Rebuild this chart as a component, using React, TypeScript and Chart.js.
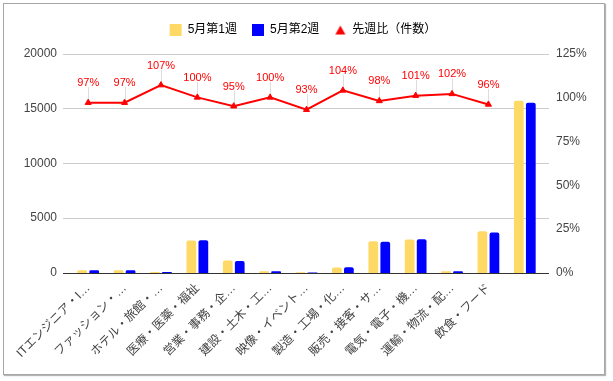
import React, { useEffect, useRef } from "react";
import { Chart, registerables } from "chart.js";
Chart.register(...registerables);

const categories = [
  "ITエンジニア・I…",
  "ファッション・…",
  "ホテル・旅館・…",
  "医療・医薬・福祉",
  "営業・事務・企…",
  "建設・土木・工…",
  "映像・イベント…",
  "製造・工場・化…",
  "販売・接客・サ…",
  "電気・電子・機…",
  "運輸・物流・配…",
  "飲食・フード",
  "",
];
const week1 = [250, 250, 80, 2970, 1150, 150, 60, 500, 2900, 3050, 150, 3800, 15700];
const week2 = [240, 240, 85, 2980, 1100, 150, 55, 520, 2850, 3080, 155, 3700, 15520];
const ratio: (number | null)[] = [97, 97, 107, 100, 95, 100, 93, 104, 98, 101, 102, 96, null];
const seriesNames = ["5月第1週", "5月第2週", "先週比（件数）"];

const YELLOW = "#ffd966";
const BLUE = "#0000ff";
const RED = "#ff0000";
const FONT = "Arial, 'Liberation Sans', 'Noto Sans CJK JP', sans-serif";

export default function App() {
  const ref = useRef<HTMLCanvasElement>(null);
  useEffect(() => {
    const tri = document.createElement("canvas");
    tri.width = 12;
    tri.height = 12;
    const tc = tri.getContext("2d")!;
    tc.fillStyle = RED;
    tc.beginPath();
    tc.moveTo(6, 1.5);
    tc.lineTo(11, 10.5);
    tc.lineTo(1, 10.5);
    tc.closePath();
    tc.fill();

    const decor = {
      id: "decor",
      beforeDatasetsDraw(chart: any) {
        const ctx = chart.ctx;
        const y = chart.scales.y;
        const left = chart.chartArea.left - 7;
        const right = chart.chartArea.right + 6;
        ctx.save();
        ctx.lineWidth = 1;
        y.ticks.forEach((t: any) => {
          if (t.value === 0) return;
          const py = Math.round(y.getPixelForValue(t.value)) + 0.5;
          ctx.strokeStyle = "#cccccc";
          ctx.beginPath();
          ctx.moveTo(left, py);
          ctx.lineTo(right, py);
          ctx.stroke();
        });
        const meta = chart.getDatasetMeta(2);
        ctx.strokeStyle = "#dddddd";
        meta.data.forEach((pt: any, i: number) => {
          if (ratio[i] == null) return;
          const px = Math.round(pt.x) + 0.5;
          ctx.beginPath();
          ctx.moveTo(px, pt.y - 15.5);
          ctx.lineTo(px, pt.y);
          ctx.stroke();
        });
        ctx.restore();
      },
      afterDatasetsDraw(chart: any) {
        const ctx = chart.ctx;
        const y = chart.scales.y;
        const left = chart.chartArea.left - 7;
        const right = chart.chartArea.right + 6;
        ctx.save();
        const py = Math.round(y.getPixelForValue(0)) + 0.5;
        ctx.strokeStyle = "#333333";
        ctx.lineWidth = 1;
        ctx.beginPath();
        ctx.moveTo(left, py);
        ctx.lineTo(right, py);
        ctx.stroke();
        const meta = chart.getDatasetMeta(2);
        ctx.fillStyle = RED;
        ctx.font = `11px ${FONT}`;
        ctx.textAlign = "center";
        ctx.textBaseline = "alphabetic";
        meta.data.forEach((pt: any, i: number) => {
          const v = ratio[i];
          if (v == null) return;
          ctx.fillText(`${v}%`, pt.x, pt.y - 16.5);
        });
        ctx.restore();
      },
    };

    const chart = new Chart(ref.current!, {
      data: {
        labels: categories,
        datasets: [
          {
            type: "bar",
            label: seriesNames[0],
            data: week1,
            backgroundColor: YELLOW,
            borderRadius: { topLeft: 2, topRight: 2 },
            borderSkipped: "bottom",
            yAxisID: "y",
            order: 2,
            categoryPercentage: 0.66,
            barPercentage: 0.81,
          },
          {
            type: "bar",
            label: seriesNames[1],
            data: week2,
            backgroundColor: BLUE,
            borderRadius: { topLeft: 2, topRight: 2 },
            borderSkipped: "bottom",
            yAxisID: "y",
            order: 2,
            categoryPercentage: 0.66,
            barPercentage: 0.81,
          },
          {
            type: "line",
            label: seriesNames[2],
            data: ratio,
            borderColor: RED,
            backgroundColor: RED,
            borderWidth: 2,
            pointStyle: "triangle",
            pointRadius: 3.5,
            pointBackgroundColor: RED,
            pointBorderColor: RED,
            pointBorderWidth: 1,
            yAxisID: "y1",
            order: 0,
          },
        ],
      } as any,
      options: {
        responsive: false,
        animation: false,
        devicePixelRatio: 1,
        layout: { padding: { top: 9, right: 7, left: 0, bottom: 0 } },
        plugins: {
          tooltip: { enabled: false },
          title: {
            display: true,
            text: "",
            weight: 500,
            padding: 0,
            font: { size: 6.25, family: FONT },
          },
          legend: {
            position: "top",
            weight: 1000,
            labels: {
              usePointStyle: true,
              boxWidth: 12,
              boxHeight: 12,
              padding: 15,
              color: "#222222",
              font: { family: FONT, size: 12 },
              generateLabels: () => [
                { text: seriesNames[0], fillStyle: YELLOW, strokeStyle: YELLOW, lineWidth: 0, pointStyle: "rect", datasetIndex: 0, hidden: false },
                { text: seriesNames[1], fillStyle: BLUE, strokeStyle: BLUE, lineWidth: 0, pointStyle: "rect", datasetIndex: 1, hidden: false },
                { text: seriesNames[2], fillStyle: RED, strokeStyle: RED, lineWidth: 0, pointStyle: tri, datasetIndex: 2, hidden: false },
              ] as any,
            },
          },
        },
        scales: {
          x: {
            offset: true,
            grid: { display: false, drawTicks: false },
            border: { display: false },
            ticks: {
              autoSkip: false,
              maxRotation: 45,
              minRotation: 45,
              padding: 8,
              color: "#444444",
              font: { family: FONT, size: 12 },
            },
            afterFit: (s: any) => {
              s.height = 108;
            },
          },
          y: {
            position: "left",
            min: 0,
            max: 20000,
            grid: { display: false, drawTicks: false },
            border: { display: false },
            ticks: {
              stepSize: 5000,
              padding: 13,
              color: "#444444",
              font: { family: FONT, size: 12 },
              callback: (v: any) => String(v),
            },
            afterFit: (s: any) => {
              s.width = 70;
            },
          },
          y1: {
            position: "right",
            min: 0,
            max: 125,
            grid: { display: false, drawTicks: false },
            border: { display: false },
            ticks: {
              stepSize: 25,
              padding: 13,
              color: "#444444",
              font: { family: FONT, size: 12 },
              callback: (v: any) => `${v}%`,
            },
            afterFit: (s: any) => {
              s.width = 63;
            },
          },
        },
      } as any,
      plugins: [decor],
    });
    return () => chart.destroy();
  }, []);

  return (
    <div style={{ position: "fixed", left: 0, top: 0, width: 613, height: 381, background: "#fff" }}>
      <canvas ref={ref} width={613} height={381} style={{ display: "block", width: 613, height: 381 }} />
      <div
        style={{
          position: "absolute",
          left: 3,
          top: 3,
          width: 602,
          height: 372,
          boxSizing: "border-box",
          border: "1px solid #a6a6a6",
          boxShadow: "1px 1px 1px #b5b5b5",
          pointerEvents: "none",
        }}
      />
    </div>
  );
}
